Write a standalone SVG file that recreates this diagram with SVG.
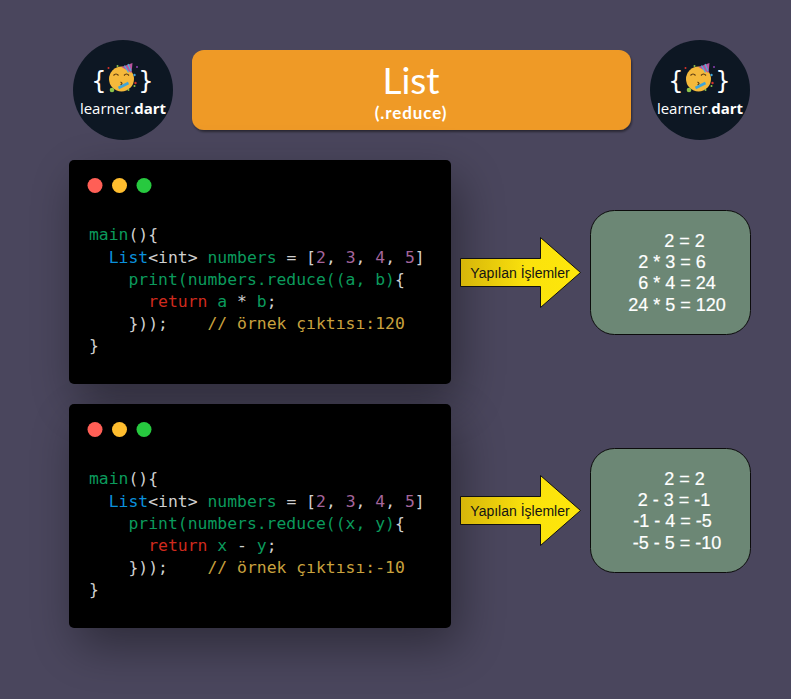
<svg xmlns="http://www.w3.org/2000/svg" width="791" height="699" viewBox="0 0 791 699">
<defs>
<linearGradient id="arrowFill" x1="0" x2="1" y1="0" y2="0"><stop offset="0" stop-color="#d6b50a"/><stop offset="0.55" stop-color="#fbe20c"/><stop offset="1" stop-color="#fde70b"/></linearGradient>
<filter id="shadow" x="-30%" y="-30%" width="170%" height="180%"><feDropShadow dx="8" dy="18" stdDeviation="24" flood-color="#000" flood-opacity="0.38"/></filter>
<filter id="titleShadow" x="-5%" y="-10%" width="110%" height="125%"><feDropShadow dx="1" dy="2" stdDeviation="0.8" flood-color="#000" flood-opacity="0.45"/></filter>
<g id="face">
<circle cx="0" cy="0" r="12.500" fill="#f5b93b"/>
<path d="M-8-3.500q2.500-3 5 0M2.500-3.500q2.500-3 5 0" fill="none" stroke="#5a3a12" stroke-width="1.200"/>
<path d="M-1 3q3 1.500 0 3" fill="none" stroke="#5a3a12" stroke-width="1.200"/>
<path d="M-3 9L7 4" stroke="#3fa4d8" stroke-width="2.600"/>
<circle cx="-9.500" cy="11" r="2.300" fill="#8bc34a"/>
<path d="M0-12L11-16L10-6Z" fill="#b8559f"/>
<path d="M3-13.500L7-6.500M6.500-15L9.500-8" stroke="#4fb3d9" stroke-width="1.200"/>
<circle cx="-4" cy="-13" r="1" fill="#8bc34a"/><circle cx="-13" cy="-11" r="1" fill="#d8322a"/><circle cx="15.500" cy="-12" r="1" fill="#8a3fb0"/><circle cx="13" cy="-4" r="1.200" fill="#3fa4d8"/><circle cx="14" cy="4" r="1.200" fill="#d8322a"/><circle cx="13" cy="7" r="1" fill="#8bc34a"/><circle cx="7" cy="11" r="1" fill="#8bc34a"/>
</g>
</defs>
<style>
.bg{fill:#4a465d}
.logo{fill:#0d1723}
.brace{font:24px "DejaVu Sans",sans-serif;fill:#fff;text-anchor:middle}
.brand{font:15px "Open Sans","DejaVu Sans",sans-serif;fill:#fff;text-anchor:middle}
.brand tspan{font-weight:700}
.panel{fill:#060202}
.code{font:16.400px "DejaVu Sans Mono",monospace;white-space:pre}
.w{fill:#d0d0d0}.g{fill:#0b9a5c}.b{fill:#0a90dc}.p{fill:#a5659c}.r{fill:#cf2a1e}.c{fill:#c9a23e}
.arrow{fill:url(#arrowFill);stroke:#111;stroke-width:1}
.alabel{font:14px "Liberation Sans",sans-serif;fill:#141414;text-anchor:middle}
.box{fill:#6c8775;stroke:#0c0c0c;stroke-width:1}
.res{font:18px "Liberation Sans",sans-serif;fill:#fff;stroke:#fff;stroke-width:0.200;text-anchor:middle}
</style>
<rect class="bg" width="791" height="699"/>
<g id="logo-left"><circle class="logo" cx="123" cy="90" r="50"/><text class="brace" x="99" y="89">{</text><text class="brace" x="146" y="89">}</text><use href="#face" x="121.500" y="79"/><text class="brand" x="123" y="114">learner.<tspan>dart</tspan></text></g>
<g id="logo-right"><circle class="logo" cx="700" cy="90" r="50"/><text class="brace" x="676" y="89">{</text><text class="brace" x="723" y="89">}</text><use href="#face" x="698.500" y="79"/><text class="brand" x="700" y="114">learner.<tspan>dart</tspan></text></g>
<g id="title"><rect x="192" y="50" width="439" height="80" rx="12" fill="#ef9a26" filter="url(#titleShadow)"/>
<text x="411" y="94" font-family="Lato,sans-serif" font-size="37" fill="#fff" text-anchor="middle">List</text>
<text x="411" y="119" font-family="Lato,sans-serif" font-size="17" font-weight="700" letter-spacing="0.900" fill="#fff" text-anchor="middle">(.reduce)</text></g>
<g id="code-1"><rect class="panel" x="69" y="160" width="382" height="224" rx="5" filter="url(#shadow)"/>
<circle cx="95" cy="185.500" r="7.500" fill="#ff5f56"/><circle cx="119.500" cy="185.500" r="7.500" fill="#ffbd2e"/><circle cx="144" cy="185.500" r="7.500" fill="#27c93f"/>
<text class="code" xml:space="preserve" x="89" y="240"><tspan class="g">main</tspan><tspan class="w">(){</tspan></text>
<text class="code" xml:space="preserve" x="89" y="263"><tspan class="b">  List</tspan><tspan class="w">&lt;int&gt; </tspan><tspan class="g">numbers</tspan><tspan class="w"> = [</tspan><tspan class="p">2</tspan><tspan class="w">, </tspan><tspan class="p">3</tspan><tspan class="w">, </tspan><tspan class="p">4</tspan><tspan class="w">, </tspan><tspan class="p">5</tspan><tspan class="w">]</tspan></text>
<text class="code" xml:space="preserve" x="89" y="285"><tspan class="g">    print(numbers.reduce((a, b)</tspan><tspan class="w">{</tspan></text>
<text class="code" xml:space="preserve" x="89" y="307"><tspan class="r">      return</tspan><tspan class="g"> a </tspan><tspan class="w">*</tspan><tspan class="g"> b</tspan><tspan class="w">;</tspan></text>
<text class="code" xml:space="preserve" x="89" y="329"><tspan class="w">    }));</tspan><tspan class="c">    // örnek çıktısı:120</tspan></text>
<text class="code w" x="89" y="351">}</text></g>
<g id="code-2"><rect class="panel" x="69" y="404" width="382" height="224" rx="5" filter="url(#shadow)"/>
<circle cx="95" cy="429.500" r="7.500" fill="#ff5f56"/><circle cx="119.500" cy="429.500" r="7.500" fill="#ffbd2e"/><circle cx="144" cy="429.500" r="7.500" fill="#27c93f"/>
<text class="code" xml:space="preserve" x="89" y="484"><tspan class="g">main</tspan><tspan class="w">(){</tspan></text>
<text class="code" xml:space="preserve" x="89" y="507"><tspan class="b">  List</tspan><tspan class="w">&lt;int&gt; </tspan><tspan class="g">numbers</tspan><tspan class="w"> = [</tspan><tspan class="p">2</tspan><tspan class="w">, </tspan><tspan class="p">3</tspan><tspan class="w">, </tspan><tspan class="p">4</tspan><tspan class="w">, </tspan><tspan class="p">5</tspan><tspan class="w">]</tspan></text>
<text class="code" xml:space="preserve" x="89" y="529"><tspan class="g">    print(numbers.reduce((x, y)</tspan><tspan class="w">{</tspan></text>
<text class="code" xml:space="preserve" x="89" y="551"><tspan class="r">      return</tspan><tspan class="g"> x </tspan><tspan class="w">-</tspan><tspan class="g"> y</tspan><tspan class="w">;</tspan></text>
<text class="code" xml:space="preserve" x="89" y="573"><tspan class="w">    }));</tspan><tspan class="c">    // örnek çıktısı:-10</tspan></text>
<text class="code w" x="89" y="595">}</text></g>
<g id="connectors">
<path class="arrow" d="M460.500 258.500H540.500V237.500L580.500 272.500L540.500 307.500V286.500H460.500Z"/>
<path class="arrow" d="M460.500 496.500H540.500V475.500L580.500 510.500L540.500 545.500V524.500H460.500Z"/>
<text class="alabel" x="520" y="278">Yapılan İşlemler</text>
<text class="alabel" x="520" y="516">Yapılan İşlemler</text>
</g>
<g id="result-1"><rect class="box" x="590.500" y="210.500" width="160" height="124" rx="24"/>
<text class="res" x="684.500" y="247">2 = 2</text><text class="res" x="672" y="268">2 * 3 = 6</text><text class="res" x="677" y="289">6 * 4 = 24</text><text class="res" x="677" y="311">24 * 5 = 120</text></g>
<g id="result-2"><rect class="box" x="590.500" y="448.500" width="160" height="124" rx="24"/>
<text class="res" x="684.500" y="485">2 = 2</text><text class="res" x="674" y="506">2 - 3 = -1</text><text class="res" x="672.500" y="527">-1 - 4 = -5</text><text class="res" x="677" y="549">-5 - 5 = -10</text></g>
</svg>
